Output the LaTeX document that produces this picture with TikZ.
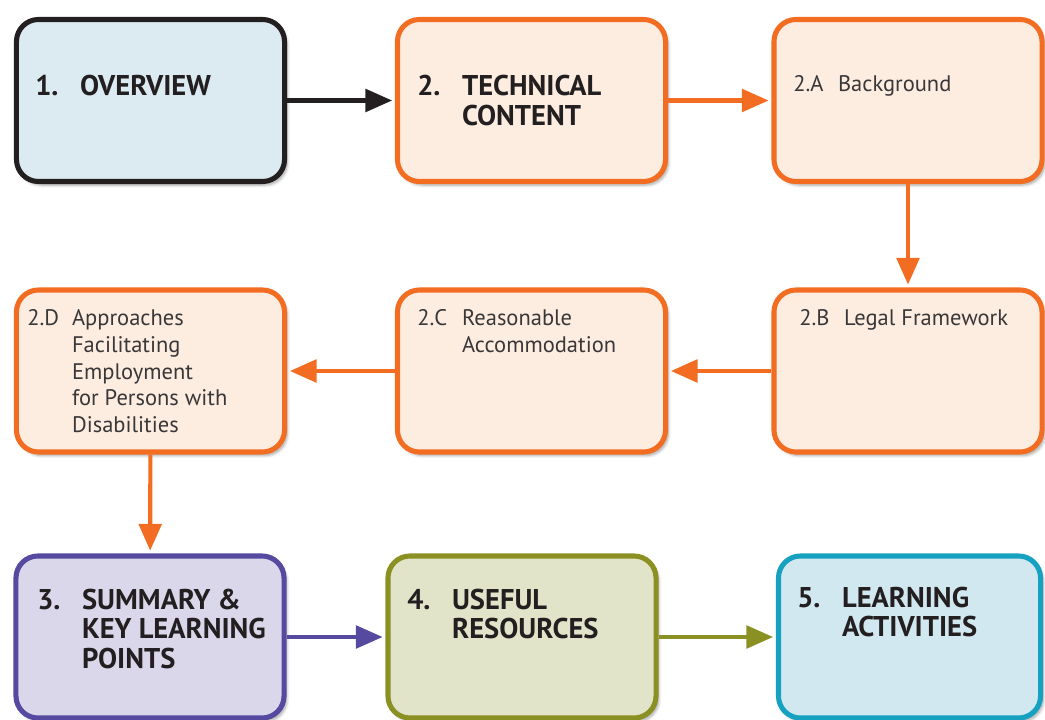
\documentclass[tikz,border=0pt]{standalone}
\usepackage{fontspec}
\setmainfont{PT Sans}
\usetikzlibrary{arrows.meta,shadows.blur}

\definecolor{inkdark}{HTML}{231F20}
\definecolor{inklight}{HTML}{3A3738}
\definecolor{orangeline}{HTML}{F26D21}
\definecolor{orangefill}{HTML}{FDEDE1}
\definecolor{bluefill}{HTML}{DCEBF2}
\definecolor{purpleline}{HTML}{5549A0}
\definecolor{purplefill}{HTML}{DAD7EB}
\definecolor{oliveline}{HTML}{8B9022}
\definecolor{olivefill}{HTML}{E1E4C8}
\definecolor{tealline}{HTML}{17A1C1}
\definecolor{tealfill}{HTML}{D1E8F0}

\tikzset{
  panel/.style={rectangle, rounded corners=0.55cm, line width=3.6pt,
    minimum width=6.7cm, minimum height=4.05cm,
    blur shadow={shadow xshift=2pt, shadow yshift=-2.5pt, shadow opacity=35, shadow blur steps=6}},
  techpanel/.style={panel, draw=orangeline, fill=orangefill},
  ttl/.style={font=\fontsize{20.3}{21.3}\selectfont\bfseries, text=inkdark, inner sep=0pt},
  sub/.style={font=\fontsize{16}{18.9}\selectfont, text=inklight, inner sep=0pt},
  link/.style={line width=2.9pt, -{Triangle[length=19pt,width=16pt]}, shorten >=2pt}
}
\newcommand{\numtext}[2]{\begin{tabular}[t]{@{}p{1.12cm}@{}l@{}}#1 & #2\end{tabular}}

\begin{document}
\begin{tikzpicture}[x=0.025cm,y=-0.025cm]
  \useasboundingbox (0,0) rectangle (1045,720);

  % boxes
  \node[panel, draw=inkdark, fill=bluefill] (ov) at (150.5,100.5) {};
  \node[techpanel] (tc) at (531.5,100.5) {};
  \node[techpanel] (bg) at (908,100.5) {};
  \node[techpanel] (lf) at (908,371) {};
  \node[techpanel] (ra) at (531.5,371) {};
  \node[techpanel] (ap) at (150.5,371) {};
  \node[panel, draw=purpleline, fill=purplefill] (sk) at (150,637) {};
  \node[panel, draw=oliveline, fill=olivefill] (ur) at (522,637) {};
  \node[panel, draw=tealline, fill=tealfill, minimum width=6.55cm] (la) at (909.5,637) {};

  % texts
  \node[ttl, anchor=base west] (ov-t) at (35,96) {\numtext{1.}{OVERVIEW}};
  \node[ttl, anchor=base west] (tc-t) at (417,96) {\numtext{2.}{TECHNICAL\\ & CONTENT}};
  \node[sub, anchor=base west] (bg-t) at (793,92) {\numtext{2.A}{Background}};
  \node[sub, anchor=base west] (lf-t) at (799,326) {\numtext{2.B}{Legal Framework}};
  \node[sub, anchor=base west] (ra-t) at (417,326) {\numtext{2.C}{Reasonable\\ & Accommodation}};
  \node[sub, anchor=base west] (ap-t) at (27,326) {\numtext{2.D}{Approaches\\ & Facilitating\\ & Employment\\ & for Persons with\\ & Disabilities}};
  \node[ttl, anchor=base west] (sk-t) at (37,609) {\numtext{3.}{SUMMARY \&\\ & KEY LEARNING\\ & POINTS}};
  \node[ttl, anchor=base west] (ur-t) at (407,609) {\numtext{4.}{USEFUL\\ & RESOURCES}};
  \node[ttl, anchor=base west] (la-t) at (797,607) {\numtext{5.}{LEARNING\\ & ACTIVITIES}};

  % arrows
  \draw[link, inkdark] (ov) -- (tc);
  \draw[link, orangeline] (tc) -- (bg);
  \draw[link, orangeline] (bg) -- (lf);
  \draw[link, orangeline] (lf) -- (ra);
  \draw[link, orangeline] (ra) -- (ap);
  \draw[link, orangeline] (ap) -- (sk);
  \draw[link, purpleline] (sk.east) -- (ur.west);
  \draw[link, oliveline] (ur.east) -- (la.west |- ur.east);
\end{tikzpicture}
\end{document}
